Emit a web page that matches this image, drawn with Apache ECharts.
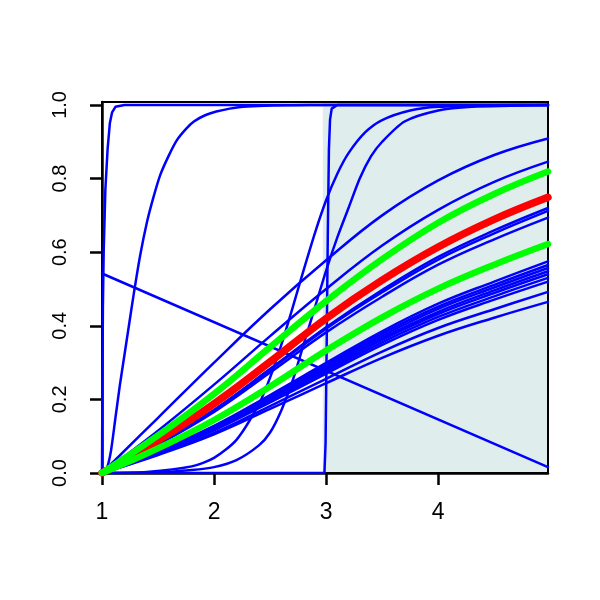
<!DOCTYPE html>
<html>
<head>
<meta charset="utf-8">
<script src="https://cdn.jsdelivr.net/npm/echarts@6/dist/echarts.min.js"></script>
<style>html,body{margin:0;padding:0;background:#fff}#c{width:600px;height:600px}</style>
</head>
<body>
<div id="c"></div>
<script>
// ---- data ----
const xTicks = [1, 2, 3, 4];
const yTicks = [0, 0.2, 0.4, 0.6, 0.8, 1.0];
const shadeFrom = 2.97, shadeTo = 4.98;

const fanX = [1, 1.5, 2, 2.5, 3, 3.5, 4, 4.5, 4.98];
const fanTop   = [0, 0.150, 0.300, 0.445, 0.578, 0.700, 0.795, 0.864, 0.909];
const fan2     = [0, 0.115, 0.240, 0.372, 0.500, 0.618, 0.715, 0.791, 0.846];
const fan5     = [0, 0.080, 0.172, 0.283, 0.396, 0.497, 0.587, 0.659, 0.720];
const fan6     = [0, 0.079, 0.170, 0.280, 0.392, 0.491, 0.580, 0.651, 0.712];
const fan7     = [0, 0.077, 0.166, 0.273, 0.382, 0.479, 0.566, 0.635, 0.694];
const band1    = [0, 0.060, 0.128, 0.212, 0.299, 0.385, 0.460, 0.520, 0.575];
const band2    = [0, 0.059, 0.126, 0.208, 0.294, 0.379, 0.452, 0.511, 0.565];
const band3    = [0, 0.058, 0.124, 0.205, 0.290, 0.373, 0.446, 0.504, 0.557];
const band4    = [0, 0.057, 0.122, 0.202, 0.285, 0.367, 0.438, 0.496, 0.548];
const band5    = [0, 0.056, 0.120, 0.199, 0.281, 0.362, 0.432, 0.489, 0.540];
const band6    = [0, 0.055, 0.118, 0.195, 0.276, 0.355, 0.424, 0.480, 0.530];
const band7    = [0, 0.054, 0.116, 0.192, 0.270, 0.348, 0.416, 0.471, 0.520];
const band8    = [0, 0.051, 0.109, 0.182, 0.256, 0.330, 0.394, 0.445, 0.492];
const band9    = [0, 0.049, 0.105, 0.174, 0.244, 0.313, 0.373, 0.422, 0.465];
const greenUpper = [0, 0.102, 0.215, 0.342, 0.467, 0.581, 0.680, 0.758, 0.819];
const redMean    = [0, 0.088, 0.188, 0.302, 0.420, 0.524, 0.614, 0.689, 0.749];
const greenLower = [0, 0.067, 0.144, 0.235, 0.333, 0.423, 0.501, 0.566, 0.622];

const sigAx = [1, 1.4, 1.8, 2.0, 2.2, 2.4, 2.5, 2.6, 2.7, 2.8, 2.9, 3.0, 3.1, 3.2, 3.35, 3.5, 3.75, 4.0, 4.5, 4.98];
const sigAy = [0, 0.003, 0.018, 0.041, 0.09, 0.187, 0.259, 0.348, 0.448, 0.552, 0.652, 0.741, 0.813, 0.869, 0.926, 0.959, 0.985, 0.995, 0.999, 1];
const sigBx = [1, 1.5, 1.8, 2.0, 2.2, 2.4, 2.5, 2.6, 2.7, 2.8, 2.9, 3.0, 3.1, 3.2, 3.3, 3.4, 3.5, 3.7, 4.0, 4.3, 4.98];
const sigBy = [0, 0.002, 0.008, 0.016, 0.035, 0.075, 0.11, 0.17, 0.25, 0.35, 0.45, 0.55, 0.64, 0.72, 0.80, 0.86, 0.90, 0.955, 0.985, 0.995, 1];
const stepX = [1, 2.985, 2.995, 3.005, 3.015, 3.025, 3.035, 3.05, 3.1, 4.98];
const stepY = [0, 0, 0.08, 0.35, 0.65, 0.88, 0.96, 0.99, 1, 1];
const steep1X = [1, 1.003, 1.008, 1.015, 1.03, 1.05, 1.07, 1.09, 1.12, 1.2, 4.98];
const steep1Y = [0, 0.2, 0.45, 0.6, 0.77, 0.88, 0.95, 0.98, 0.995, 1, 1];
const steep2X = [1, 1.04, 1.08, 1.12, 1.16, 1.2, 1.24, 1.28, 1.34, 1.4, 1.46, 1.52, 1.6, 1.67, 1.75, 1.82, 1.92, 2.02, 2.14, 2.26, 2.45, 2.7, 3.0, 4.98];
const steep2Y = [0, 0.01, 0.06, 0.15, 0.24, 0.32, 0.40, 0.48, 0.59, 0.68, 0.75, 0.81, 0.865, 0.905, 0.935, 0.955, 0.972, 0.982, 0.99, 0.995, 0.998, 0.999, 1, 1];
const declX = [1, 4.98];
const declY = [0.542, 0.016];

// ---- build ----
const BLUE = '#0000ff', RED = '#ff0000', GREEN = '#00ff00';
function pts(xs, ys) { return xs.map((x, i) => [x, ys[i]]); }
function line(xs, ys, color, width, smooth, z) {
  return {
    type: 'line', data: pts(xs, ys), showSymbol: false, symbol: 'none',
    smooth: smooth, clip: true, z: z || 2, silent: true,
    lineStyle: { color: color, width: width, cap: 'round', join: 'round' },
    animation: false
  };
}

const series = [];
series.push({
  type: 'line', data: [], z: 1, silent: true,
  markArea: { silent: true, itemStyle: { color: '#e0eded' },
    data: [[{ xAxis: shadeFrom, yAxis: 0 }, { xAxis: shadeTo, yAxis: 1.008 }]] }
});
series.push(line(steep1X, steep1Y, BLUE, 2.5, false));
series.push(line(steep2X, steep2Y, BLUE, 2.5, 0.2));
series.push(line(declX, declY, BLUE, 2.5, false));
series.push(line(stepX, stepY, BLUE, 2.5, false));
series.push(line(sigAx, sigAy, BLUE, 2.5, 0.25));
series.push(line(sigBx, sigBy, BLUE, 2.5, 0.25));
[fanTop, fan2, fan5, fan6, fan7, band1, band2, band3, band4, band5, band6, band7, band8, band9]
  .forEach(ys => series.push(line(fanX, ys, BLUE, 2.5, 0.4)));
series.push(line(fanX, redMean, RED, 7.5, 0.4, 3));
series.push(line(fanX, greenUpper, GREEN, 6.5, 0.4, 4));
series.push(line(fanX, greenLower, GREEN, 6.5, 0.4, 4));

const chart = echarts.init(document.getElementById('c'), null, { renderer: 'canvas' });
chart.setOption({
  animation: false,
  backgroundColor: '#ffffff',
  grid: { left: 102, right: 52, top: 102, bottom: 127, show: true, z: 1.5,
          borderColor: '#000', borderWidth: 2, backgroundColor: 'transparent' },
  xAxis: {
    type: 'value', min: 1, max: 4.98, interval: 1, z: 1.5,
    splitLine: { show: false },
    axisLine: { show: true, onZero: false, lineStyle: { color: '#000', width: 2.5 } },
    axisTick: { show: true, length: 12, customValues: xTicks, lineStyle: { color: '#000', width: 2.5 } },
    axisLabel: { show: true, margin: 28, showMaxLabel: false, color: '#000',
                 fontSize: 23, fontFamily: 'Arial',
                 formatter: v => (xTicks.indexOf(v) >= 0 ? String(v) : '') }
  },
  yAxis: {
    type: 'value', min: 0, max: 1.008, interval: 0.2, z: 1.5,
    splitLine: { show: false },
    axisLine: { show: true, onZero: false, lineStyle: { color: '#000', width: 2.5 } },
    axisTick: { show: true, length: 12, customValues: yTicks, lineStyle: { color: '#000', width: 2.5 } },
    axisLabel: { show: true, margin: 32, rotate: 90, showMaxLabel: false, color: '#000',
                 fontSize: 20, fontFamily: 'Arial',
                 formatter: v => (v <= 1.0001 ? Number(v).toFixed(1) : '') }
  },
  series: series
});
</script>
</body>
</html>
